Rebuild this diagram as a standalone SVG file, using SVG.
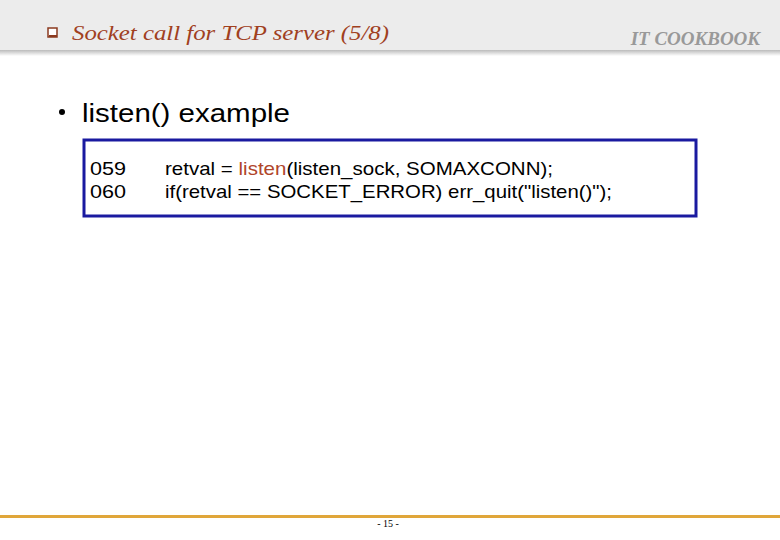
<svg xmlns="http://www.w3.org/2000/svg" width="780" height="540" viewBox="0 0 780 540">
<style>
.t{font-family:"Liberation Serif",serif;font-style:italic}
.s{font-family:"Liberation Sans",Arial,sans-serif}
</style>
<defs><linearGradient id="g" x1="0" y1="0" x2="0" y2="1"><stop offset="0" stop-color="#bbb"/><stop offset="1" stop-color="#fff"/></linearGradient></defs>
<rect width="780" height="540" fill="#fff"/>
<rect width="780" height="50" fill="#ececec"/>
<rect y="50" width="780" height="6" fill="url(#g)"/>
<g id="header">
<rect x="48" y="28" width="9" height="9" fill="#fff" stroke="#8b3a1f" stroke-width="1.5"/>
<rect x="49" y="35" width="8" height="2" fill="#8b3a1f"/>
<text class="t" x="72" y="40" font-size="20" fill="#a0401e" textLength="317" lengthAdjust="spacingAndGlyphs">Socket call for TCP  server (5/8)</text>
<text class="t" x="760" y="45" font-size="19" font-weight="bold" fill="#999" text-anchor="end">IT COOKBOOK</text>
</g>
<g id="title">
<circle cx="62" cy="112" r="3" fill="#000"/>
<text class="s" x="82" y="122" font-size="26" fill="#000" textLength="208" lengthAdjust="spacingAndGlyphs">listen() example</text>
</g>
<g id="code">
<rect x="84" y="140" width="612" height="76" fill="#fff" stroke="#1a1aa0" stroke-width="3"/>
<text class="s" x="90" y="175" font-size="19" textLength="36" lengthAdjust="spacingAndGlyphs">059</text>
<text class="s" x="90" y="198" font-size="19" textLength="36" lengthAdjust="spacingAndGlyphs">060</text>
<text class="s" x="165" y="175" font-size="19" textLength="388" lengthAdjust="spacingAndGlyphs">retval = <tspan fill="#b0452a">listen</tspan>(listen_sock, SOMAXCONN);</text>
<text class="s" x="165" y="198" font-size="19" textLength="447" lengthAdjust="spacingAndGlyphs">if(retval == SOCKET_ERROR) err_quit("listen()");</text>
</g>
<rect y="515" width="780" height="3" fill="#e0a63a"/>
<text x="388" y="527" font-size="10" font-family="Liberation Serif,serif" text-anchor="middle">- 15 -</text>
</svg>
